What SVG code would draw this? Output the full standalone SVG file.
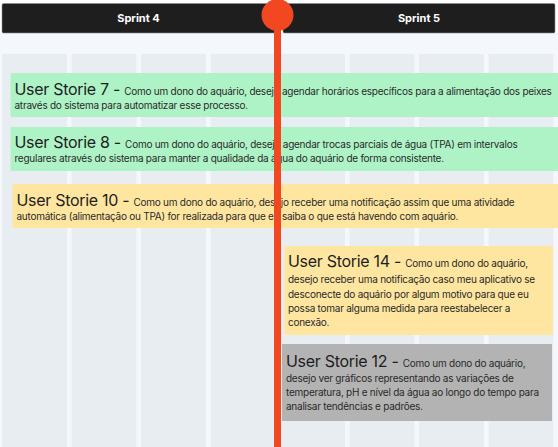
<svg xmlns="http://www.w3.org/2000/svg" width="558" height="447" viewBox="0 0 558 447">
<style>
.col{fill:#e8edf2}
.hdr{fill:#1e1e1e;stroke:#8a8f96;stroke-width:0.6}
.hdrt{font-family:Inter,"Liberation Sans",sans-serif;font-size:11px;font-weight:700;fill:#ffffff;text-anchor:middle}
.t{font-family:Inter,"Liberation Sans",sans-serif;font-size:10px;letter-spacing:-0.25px;fill:#2a2a2a}
.big{font-size:16px;letter-spacing:-0.3px;fill:#1e1e1e}
.green{fill:#aef3c6}
.yellow{fill:#ffe6a0}
.gray{fill:#b3b3b3}
</style>
<rect x="0" y="0" width="558" height="447" fill="#ffffff"/>
<rect x="0" y="33" width="558" height="414" fill="#f4f8fc"/>
<g id="columns">
<rect class="col" x="2" y="54" width="65" height="393"/>
<rect class="col" x="71.5" y="54" width="65" height="393"/>
<rect class="col" x="141" y="54" width="65" height="393"/>
<rect class="col" x="210.5" y="54" width="65" height="393"/>
<rect class="col" x="280" y="54" width="65" height="393"/>
<rect class="col" x="349.5" y="54" width="65" height="393"/>
<rect class="col" x="419" y="54" width="65" height="393"/>
<rect class="col" x="488.5" y="54" width="65" height="393"/>
</g>
<g id="sprint4">
<rect class="hdr" x="2" y="3.5" width="273" height="29.5" rx="1.5"/>
<text class="hdrt" x="138.5" y="22">Sprint 4</text>
</g>
<g id="sprint5">
<rect class="hdr" x="283" y="3.5" width="272" height="29.5" rx="1.5"/>
<text class="hdrt" x="419" y="22">Sprint 5</text>
</g>
<g id="us7">
<rect class="green" x="10.5" y="73" width="547.5" height="44"/>
<text class="t" x="14.5" y="95"><tspan class="big">User Storie 7 - </tspan>Como um dono do aquário, desejo agendar horários específicos para a alimentação dos peixes</text>
<text class="t" x="14.5" y="109">através do sistema para automatizar esse processo.</text>
</g>
<g id="us8">
<rect class="green" x="10.5" y="127" width="547.5" height="44"/>
<text class="t" x="14.5" y="148"><tspan class="big">User Storie 8 - </tspan>Como um dono do aquário, desejo agendar trocas parciais de água (TPA) em intervalos</text>
<text class="t" x="14.5" y="162">regulares através do sistema para manter a qualidade da água do aquário de forma consistente.</text>
</g>
<g id="us10">
<rect class="yellow" x="12.5" y="184" width="545.5" height="44"/>
<text class="t" x="16.5" y="206"><tspan class="big">User Storie 10 - </tspan>Como um dono do aquário, desejo receber uma notificação assim que uma atividade</text>
<text class="t" x="16.5" y="220">automática (alimentação ou TPA) for realizada para que eu saiba o que está havendo com aquário.</text>
</g>
<g id="us14">
<rect class="yellow" x="284.5" y="246" width="268.5" height="89"/>
<text class="t" x="288" y="267"><tspan class="big">User Storie 14 - </tspan>Como um dono do aquário,</text>
<text class="t" x="288" y="283">desejo receber uma notificação caso meu aplicativo se</text>
<text class="t" x="288" y="297.5">desconecte do aquário por algum motivo para que eu</text>
<text class="t" x="288" y="312">possa tomar alguma medida para reestabelecer a</text>
<text class="t" x="288" y="326">conexão.</text>
</g>
<g id="us12">
<rect class="gray" x="282" y="344" width="270" height="77"/>
<text class="t" x="286" y="366.5"><tspan class="big">User Storie 12 - </tspan>Como um dono do aquário,</text>
<text class="t" x="286" y="382">desejo ver gráficos representando as variações de</text>
<text class="t" x="286" y="396">temperatura, pH e nível da água ao longo do tempo para</text>
<text class="t" x="286" y="410">analisar tendências e padrões.</text>
</g>
<g id="connectors">
<g id="timeline" fill="#f24822">
<rect x="274" y="14" width="7" height="433"/>
<circle cx="277.5" cy="15" r="16"/>
</g>
</g>
</svg>
